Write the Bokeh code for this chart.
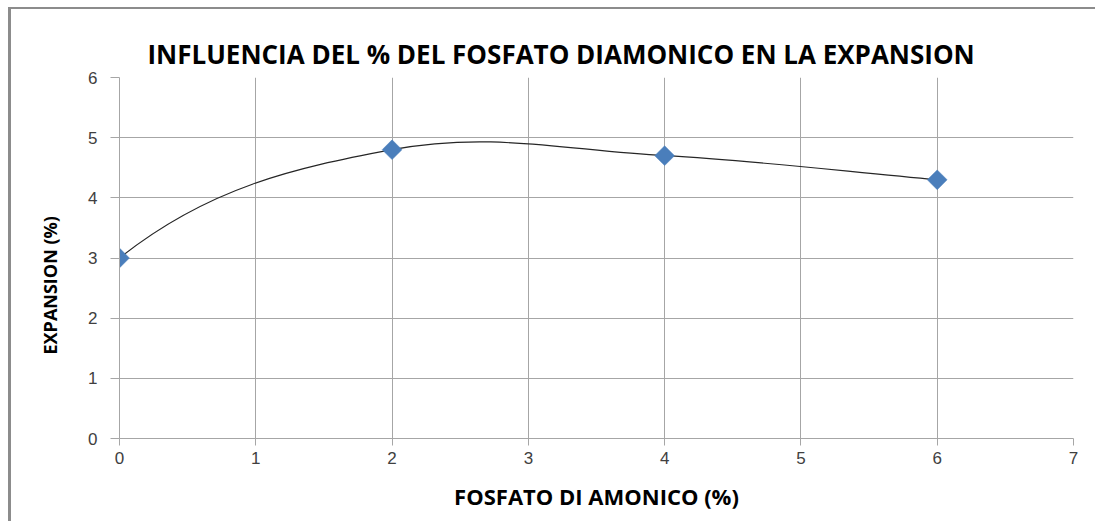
import numpy as np
from bokeh.plotting import figure
from bokeh.models import Range1d, FixedTicker, Title
from bokeh.embed import file_html
from bokeh.resources import INLINE

# ---- data ----
x_vals = [0, 2, 4, 6]
y_vals = [3.0, 4.8, 4.7, 4.3]
x_ticks = [0, 1, 2, 3, 4, 5, 6, 7]
y_ticks = [0, 1, 2, 3, 4, 5, 6]
title_text = "INFLUENCIA DEL % DEL FOSFATO DIAMONICO EN LA EXPANSION"
x_title = "FOSFATO DI AMONICO (%)"
y_title = "EXPANSION (%)"

BOLD = "Open Sans"
REG = "Liberation Sans, Arial, sans-serif"
GRID = "#a6a6a6"


def smooth_controls(xs, ys, k=0.18):
    """Bezier control points of a smoothed line through the points (Excel-like)."""
    P = np.column_stack([xs, ys]).astype(float)
    n = len(P)
    T = np.zeros_like(P)
    for i in range(1, n - 1):
        T[i] = (P[i + 1] - P[i - 1]) * k

    def mirror(t, chord):
        u = chord / np.linalg.norm(chord)
        r = 2 * np.dot(t, u) * u - t
        return r / np.linalg.norm(r) * np.linalg.norm(chord) / 2

    T0 = mirror(T[1], P[1] - P[0])
    Tn = (P[n - 1] - P[n - 2]) / 3.0
    c0, c1 = [], []
    for i in range(n - 1):
        a = P[i] + (T0 if i == 0 else T[i])
        b = P[i + 1] - (Tn if i == n - 2 else T[i + 1])
        c0.append(a)
        c1.append(b)
    return P[:-1], P[1:], np.array(c0), np.array(c1)


p = figure(width=1087, height=514, output_backend="svg", toolbar_location=None,
           x_range=Range1d(0, 7), y_range=Range1d(0, 6),
           min_border_left=108, min_border_right=25, min_border_top=68, min_border_bottom=85)
p.styles = {"margin-left": "8px", "margin-top": "7px",
            "border-left": "3px solid #8c8c8c", "border-top": "2px solid #8c8c8c"}
p.background_fill_color = "white"
p.border_fill_color = "white"
p.outline_line_color = None

# grid
p.xgrid.ticker = FixedTicker(ticks=x_ticks)
p.ygrid.ticker = FixedTicker(ticks=y_ticks)
p.xgrid.grid_line_color = GRID
p.ygrid.grid_line_color = GRID
p.xgrid.grid_line_width = 1
p.ygrid.grid_line_width = 1

# axes
p.xaxis.ticker = FixedTicker(ticks=x_ticks)
p.yaxis.ticker = FixedTicker(ticks=y_ticks)
for ax in (p.xaxis[0], p.yaxis[0]):
    ax.axis_line_color = GRID
    ax.major_tick_line_color = GRID
    ax.minor_tick_line_color = None
    ax.major_tick_in = 0
    ax.major_label_text_font = REG
    ax.major_label_text_font_size = "17px"
    ax.major_label_text_color = "#404040"
p.xaxis.major_tick_out = 7
p.yaxis.major_tick_out = 9
p.xaxis.major_label_standoff = 6
p.yaxis.major_label_standoff = 13

p.xaxis.axis_label = x_title
p.xaxis.axis_label_text_font = BOLD
p.xaxis.axis_label_text_font_style = "bold"
p.xaxis.axis_label_text_font_size = "22px"
p.xaxis.axis_label_text_color = "#000000"
p.xaxis.axis_label_standoff = 14

# smoothed line
s0, s1, cc0, cc1 = smooth_controls(x_vals, y_vals)
p.bezier(x0=s0[:, 0], y0=s0[:, 1], x1=s1[:, 0], y1=s1[:, 1],
         cx0=cc0[:, 0], cy0=cc0[:, 1], cx1=cc1[:, 0], cy1=cc1[:, 1],
         line_color="#262626", line_width=1.2)

# markers
p.scatter(x_vals, y_vals, marker="square", size=14, angle=np.pi / 4,
          fill_color="#4a7ebb", line_color="#4a7ebb", line_width=0.5)

# title and y-axis title
p.add_layout(Title(text=title_text, align="left", offset=28, vertical_align="middle",
                   text_font=BOLD, text_font_style="bold", text_font_size="26px",
                   text_color="#000000", standoff=10), "above")
p.add_layout(Title(text=y_title, align="left", offset=84,
                   text_font=BOLD, text_font_style="bold", text_font_size="18px",
                   text_color="#000000", standoff=47), "left")

open("out.html", "w").write(file_html(p, INLINE))
